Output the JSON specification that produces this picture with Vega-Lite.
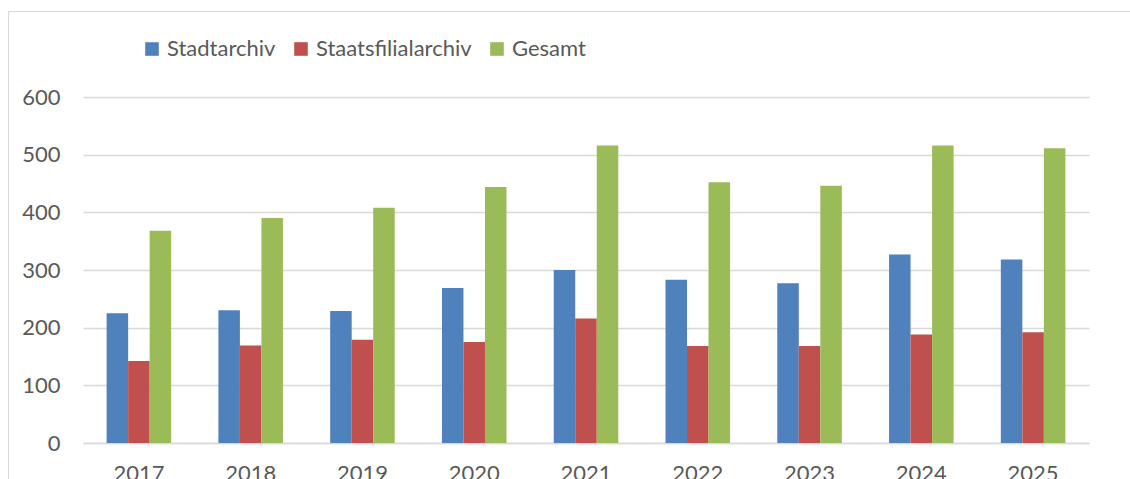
{
  "$schema": "https://vega.github.io/schema/vega-lite/v6.json",
  "width": 1006,
  "height": 346,
  "autosize": {"type": "none"},
  "padding": {"left": 83, "top": 97, "right": 41, "bottom": 36},
  "background": "white",
  "data": {
    "values": [
      {"Jahr": "2017", "Reihe": "Stadtarchiv", "Wert": 225},
      {"Jahr": "2017", "Reihe": "Staatsfilialarchiv", "Wert": 142},
      {"Jahr": "2017", "Reihe": "Gesamt", "Wert": 368},
      {"Jahr": "2018", "Reihe": "Stadtarchiv", "Wert": 230},
      {"Jahr": "2018", "Reihe": "Staatsfilialarchiv", "Wert": 169},
      {"Jahr": "2018", "Reihe": "Gesamt", "Wert": 390},
      {"Jahr": "2019", "Reihe": "Stadtarchiv", "Wert": 229},
      {"Jahr": "2019", "Reihe": "Staatsfilialarchiv", "Wert": 179},
      {"Jahr": "2019", "Reihe": "Gesamt", "Wert": 408},
      {"Jahr": "2020", "Reihe": "Stadtarchiv", "Wert": 269},
      {"Jahr": "2020", "Reihe": "Staatsfilialarchiv", "Wert": 175},
      {"Jahr": "2020", "Reihe": "Gesamt", "Wert": 444},
      {"Jahr": "2021", "Reihe": "Stadtarchiv", "Wert": 300},
      {"Jahr": "2021", "Reihe": "Staatsfilialarchiv", "Wert": 216},
      {"Jahr": "2021", "Reihe": "Gesamt", "Wert": 516},
      {"Jahr": "2022", "Reihe": "Stadtarchiv", "Wert": 283},
      {"Jahr": "2022", "Reihe": "Staatsfilialarchiv", "Wert": 168},
      {"Jahr": "2022", "Reihe": "Gesamt", "Wert": 452},
      {"Jahr": "2023", "Reihe": "Stadtarchiv", "Wert": 277},
      {"Jahr": "2023", "Reihe": "Staatsfilialarchiv", "Wert": 168},
      {"Jahr": "2023", "Reihe": "Gesamt", "Wert": 446},
      {"Jahr": "2024", "Reihe": "Stadtarchiv", "Wert": 327},
      {"Jahr": "2024", "Reihe": "Staatsfilialarchiv", "Wert": 188},
      {"Jahr": "2024", "Reihe": "Gesamt", "Wert": 516},
      {"Jahr": "2025", "Reihe": "Stadtarchiv", "Wert": 318},
      {"Jahr": "2025", "Reihe": "Staatsfilialarchiv", "Wert": 192},
      {"Jahr": "2025", "Reihe": "Gesamt", "Wert": 511}
    ]
  },
  "mark": {"type": "bar"},
  "encoding": {
    "x": {
      "field": "Jahr",
      "type": "nominal",
      "scale": {"paddingInner": 0.4225, "paddingOuter": 0.2113},
      "axis": {
        "title": null,
        "labelAngle": 0,
        "labelFont": "Lato",
        "labelFontSize": 22,
        "labelColor": "#595959",
        "ticks": false,
        "domainColor": "#d9d9d9",
        "domainWidth": 1.3,
        "labelPadding": 20
      }
    },
    "xOffset": {
      "field": "Reihe",
      "sort": ["Stadtarchiv", "Staatsfilialarchiv", "Gesamt"],
      "scale": {"paddingInner": 0, "paddingOuter": 0}
    },
    "y": {
      "field": "Wert",
      "type": "quantitative",
      "scale": {"domain": [0, 600]},
      "axis": {
        "title": null,
        "values": [0, 100, 200, 300, 400, 500, 600],
        "grid": true,
        "gridColor": "#d9d9d9",
        "gridWidth": 1.3,
        "domain": false,
        "ticks": false,
        "labelPadding": 23,
        "labelFont": "Lato",
        "labelFontSize": 22,
        "labelColor": "#595959"
      }
    },
    "color": {
      "field": "Reihe",
      "type": "nominal",
      "sort": ["Stadtarchiv", "Staatsfilialarchiv", "Gesamt"],
      "scale": {
        "domain": ["Stadtarchiv", "Staatsfilialarchiv", "Gesamt"],
        "range": ["#4F81BD", "#C0504D", "#9BBB59"]
      },
      "legend": {
        "title": null,
        "orient": "none",
        "legendX": 58,
        "legendY": -59,
        "direction": "horizontal",
        "symbolType": "square",
        "symbolSize": 185,
        "symbolStrokeWidth": 0,
        "labelFont": "Lato",
        "labelFontSize": 22,
        "labelColor": "#595959",
        "labelOffset": 4,
        "columnPadding": 14,
        "zindex": 2
      }
    },
    "opacity": {
      "datum": "Rahmen",
      "type": "ordinal",
      "scale": {"range": [1]},
      "legend": {
        "title": null,
        "orient": "none",
        "legendX": -75,
        "legendY": -86,
        "padding": 600,
        "strokeColor": "#d9d9d9",
        "symbolSize": 0,
        "symbolOpacity": 0,
        "labelExpr": "''",
        "labelFontSize": 1,
        "zindex": 0
      }
    }
  },
  "config": {"view": {"stroke": null}}
}
